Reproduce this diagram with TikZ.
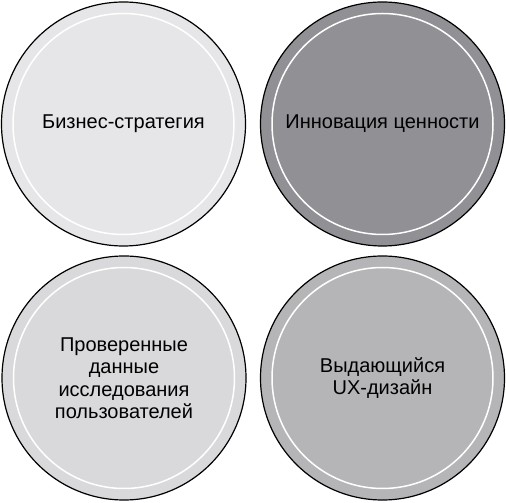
\documentclass[tikz,border=0pt]{standalone}
\usepackage{fontspec}
\setmainfont{Liberation Sans}
\usepackage{tikz}

\definecolor{lightdisc}{HTML}{E6E6E8}
\definecolor{darkdisc}{HTML}{919095}
\definecolor{paledisc}{HTML}{D9D9DB}
\definecolor{middisc}{HTML}{B5B5B7}

\tikzset{
  disc/.style={circle,draw=black,line width=1.2pt,minimum size=244pt,
    inner sep=0pt,align=center,font=\fontsize{20}{22.5}\selectfont},
  ring/.style={white,line width=1.5pt}
}

\begin{document}
\begin{tikzpicture}[x=1pt,y=1pt]
\useasboundingbox (0,0) rectangle (506,503);
\node (biz) at (123.5,379) [disc,fill=lightdisc]{Бизнес-стратегия};
\node (value) at (382.5,379) [disc,fill=darkdisc]{Инновация ценности};
\node (research) at (124,125) [disc,fill=paledisc]{Проверенные\\данные\\исследования\\пользователей};
\node (ux) at (382.5,125) [disc,fill=middisc]{Выдающийся\\UX-дизайн};
% inner white rings
\draw [ring] (biz.center) circle (110.5);
\draw [ring] (value.center) circle (110.5);
\draw [ring] (research.center) circle (110.5);
\draw [ring] (ux.center) circle (110.5);
\end{tikzpicture}
\end{document}
